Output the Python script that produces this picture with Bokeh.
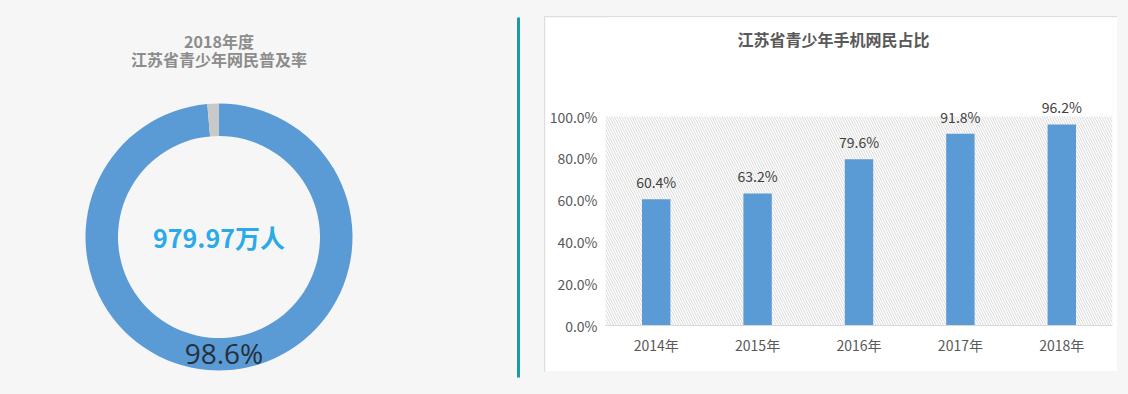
import math
from bokeh.plotting import figure
from bokeh.layouts import row, column
from bokeh.models import (Range1d, FactorRange, BoxAnnotation, FixedTicker,
                          PrintfTickFormatter, Label, Spacer, ColumnDataSource)
from bokeh.core.properties import value
from bokeh.embed import file_html
from bokeh.resources import INLINE

# ---------------- data ----------------
donut_title = ["2018年度", "江苏省青少年网民普及率"]
donut_parts = ["网民", "非网民"]
donut_values = [98.6, 1.4]
donut_colors = ["#5b9bd5", "#c9c9c9"]
donut_center_text = "979.97万人"
donut_value_label = "98.6%"

bar_title = "江苏省青少年手机网民占比"
years = ["2014年", "2015年", "2016年", "2017年", "2018年"]
shares = [60.4, 63.2, 79.6, 91.8, 96.2]
y_ticks = [0, 20, 40, 60, 80, 100]

BG = "#f6f6f6"
CJK = "Noto Sans CJK SC"

# ---------------- left: donut ----------------
LW, LH = 545, 394
left = figure(width=LW, height=LH, x_range=Range1d(0, LW), y_range=Range1d(0, LH),
              output_backend="svg", toolbar_location=None, min_border=0,
              background_fill_color=BG, border_fill_color=BG, outline_line_color=None)
left.axis.visible = False
left.grid.visible = False

cx, cy = 218.5, LH - 236.5
total = sum(donut_values)
starts, ends = [], []
a = math.pi / 2
for v in donut_values:
    starts.append(a)
    a = a - v / total * 2 * math.pi
    ends.append(a)
dsrc = ColumnDataSource(dict(part=donut_parts, start=starts, end=ends, color=donut_colors))
left.annular_wedge(x=cx, y=cy, inner_radius=101, outer_radius=133.5,
                   start_angle="start", end_angle="end", direction="clock",
                   fill_color="color", line_color=None, source=dsrc)

left.text(x=[cx, cx], y=[LH - 40, LH - 58], text=donut_title,
          text_font=value(CJK), text_font_size="16px", text_font_style="bold",
          text_color="#8c8c8c", text_align="center", text_baseline="middle")
left.text(x=[cx], y=[LH - 236], text=[donut_center_text],
          text_font=value(CJK), text_font_size="25px", text_font_style="bold",
          text_color="#2aaae9", text_align="center", text_baseline="middle")
left.text(x=[cx + 5], y=[LH - 352], text=[donut_value_label],
          text_font=value("Open Sans"), text_font_size="28px",
          text_color="#26303c", text_align="center", text_baseline="middle")

# teal divider
left.segment(x0=[518], y0=[LH - 17], x1=[518], y1=[LH - 377],
             line_color="#1b9aa8", line_width=3)

# ---------------- right: bar chart ----------------
RW, RH = 572, 354
ML, MR, MT, MB = 60, 5, 0, 46
FW, FH = RW - ML - MR, RH - MT - MB
px_per_unit = 2.09
right = figure(x_range=FactorRange(*years, range_padding=0),
               y_range=Range1d(0, FH / px_per_unit),
               frame_width=FW, frame_height=FH,
               min_border_left=ML, min_border_right=MR,
               min_border_top=MT, min_border_bottom=MB,
               output_backend="svg", toolbar_location=None,
               background_fill_color="white", border_fill_color="white",
               outline_line_color=None,
               styles={"outline": "1px solid #dedede"})
right.grid.visible = False

hatch = BoxAnnotation(bottom=0, top=100, fill_alpha=0, line_color=None,
                      hatch_pattern="\\", hatch_color="#d9d9d9",
                      hatch_scale=5, hatch_weight=1, level="underlay")
right.add_layout(hatch)

bsrc = ColumnDataSource(dict(year=years, share=shares,
                             label=[f"{v:.1f}%" for v in shares]))
right.vbar(x="year", top="share", width=0.28, fill_color="#5b9bd5",
           line_color=None, source=bsrc)
right.text(x="year", y="share", text="label", source=bsrc, y_offset=-7,
           text_font=value(CJK), text_font_size="14px", text_color="#404040",
           text_align="center", text_baseline="bottom")

right.yaxis.ticker = FixedTicker(ticks=y_ticks)
right.yaxis.formatter = PrintfTickFormatter(format="%.1f%%")
right.yaxis.axis_line_color = None
right.yaxis.major_tick_line_color = None
right.yaxis.minor_tick_line_color = None
right.yaxis.major_tick_out = 0
right.yaxis.minor_tick_out = 0
right.yaxis.major_label_standoff = 8
right.yaxis.major_label_text_font = CJK
right.yaxis.major_label_text_font_size = "14px"
right.yaxis.major_label_text_color = "#595959"

right.xaxis.axis_line_color = "#d9d9d9"
right.xaxis.major_tick_line_color = None
right.xaxis.minor_tick_line_color = None
right.xaxis.major_tick_out = 0
right.xaxis.minor_tick_out = 0
right.xaxis.major_label_standoff = 9
right.xaxis.major_label_text_font = CJK
right.xaxis.major_label_text_font_size = "14px"
right.xaxis.major_label_text_color = "#595959"

# title: screen units measured from the frame's bottom-left corner
title = Label(x=833 - 545 - ML, y=FH - 21, x_units="screen", y_units="screen",
              text=bar_title, text_font=CJK, text_font_size="16px",
              text_font_style="bold", text_color="#595959",
              text_align="center", text_baseline="middle")
right.add_layout(title)

right_col = column(Spacer(width=RW, height=17, styles={"background-color": BG}),
                   right,
                   Spacer(width=RW, height=LH - 17 - RH, styles={"background-color": BG}),
                   styles={"background-color": BG})
layout = row(left, right_col,
             Spacer(width=1128 - LW - RW, height=LH, styles={"background-color": BG}),
             styles={"background-color": BG})

open("out.html", "w").write(file_html(layout, INLINE))
